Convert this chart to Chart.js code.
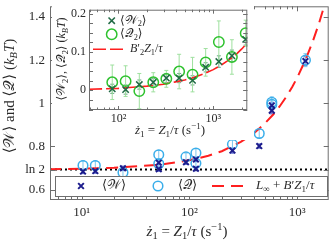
<!DOCTYPE html>
<html>
<head>
<meta charset="utf-8">
<script src="https://cdn.jsdelivr.net/npm/chart.js@4.4.1/dist/chart.umd.min.js"></script>
<style>
  html, body { margin: 0; padding: 0; background: #fff; }
  #wrap { position: relative; width: 335px; height: 242px; }
  #main { position: absolute; left: 0; top: 0; }
  #inset { position: absolute; left: 52px; top: 3px; background: #fff; }
</style>
</head>
<body>
<div id="wrap">
  <canvas id="main" width="335" height="242" style="width:335px;height:242px"></canvas>
  <canvas id="inset" width="202" height="137" style="width:202px;height:137px"></canvas>
</div>
<script>
// ---- main panel data ----
const LN2 = 0.693
const zMain = [10.3, 13.4, 24.2, 52, 52, 93, 115, 115, 251, 310, 445, 582, 582, 1194]
const wMain = [0.684, 0.686, 0.699, 0.725, 0.695, 0.727, 0.740, 0.697, 0.781, 0.860, 0.802, 0.990, 0.966, 1.196]
const qMain = [0.712, 0.712, 0.680, 0.762, 0.720, 0.752, 0.770, 0.722, 0.810, 0.868, 0.860, 1.005, 0.995, 1.200]
const wMainErr = [0.01, 0.01, 0.01, 0.01, 0.01, 0.01, 0.01, 0.01, 0.012, 0.012, 0.01, 0.015, 0.015, 0.02]
const qMainErr = [0.022, 0.022, 0.02, 0.02, 0.018, 0.018, 0.02, 0.018, 0.02, 0.02, 0.02, 0.025, 0.02, 0.03]
// fit L_inf + B' z, sampled from the drawn curve
const fitZ = [5, 10, 20, 50, 100, 150, 200, 300, 400, 500, 600, 700, 800, 900, 1000, 1200, 1400, 1600, 1800]
const fitMain = [0.695, 0.697, 0.702, 0.714, 0.736, 0.757, 0.778, 0.821, 0.863, 0.906, 0.948, 0.991, 1.033, 1.076, 1.118, 1.203, 1.288, 1.373, 1.458]
const xMainTicks = [10, 100, 1000]
const xMainLabels = ['10¹', '10²', '10³']
const yMainTicks = [0.6, LN2, 0.8, 1, 1.2, 1.4]
const yMainLabels = ['0.6', 'ln 2', '0.8', '1', '1.2', '1.4']

// ---- inset data ----
const zInset = [86, 119, 166, 233, 320, 437, 605, 832, 1146, 1574, 2200]
const w2 = [0.004, 0.002, 0.015, 0.021, 0.032, 0.032, 0.026, 0.060, 0.075, 0.090, 0.133]
const q2 = [0.021, 0.024, -0.002, 0.021, 0.030, 0.049, 0.041, 0.073, 0.126, 0.087, 0.149]
const w2Err = [0.012, 0.012, 0.012, 0.01, 0.012, 0.012, 0.012, 0.012, 0.015, 0.015, 0.015]
const q2Err = [0.045, 0.040, 0.046, 0.025, 0.022, 0.045, 0.045, 0.036, 0.055, 0.045, 0.034]
const fitZInset = [49, 100, 200, 300, 400, 500, 600, 800, 1000, 1200, 1400, 1600, 1800, 2000, 2300]
const fitInset = [0.003, 0.005, 0.011, 0.016, 0.022, 0.027, 0.032, 0.043, 0.054, 0.065, 0.076, 0.086, 0.097, 0.108, 0.124]
const xInsetTicks = [100, 1000]
const xInsetLabels = ['10²', '10³']
const yInsetTicks = [0, 0.1, 0.2]
const yInsetLabels = ['0', '0.1', '0.2']

const FONT = '"Liberation Serif", "DejaVu Serif", serif'
const INK = '#2a2a2a'
const FRAME = '#6e6e6e'
Chart.defaults.font.family = FONT
Chart.defaults.color = INK

const pts = (xs, ys) => xs.map((x, i) => ({ x, y: ys[i] }))

// text with italic / sub / sup pieces: [text, flags]  i=italic b=sub p=sup
function drawRich(ctx, segs, x, y, size, align, rot) {
  ctx.save()
  ctx.translate(x, y)
  if (rot) ctx.rotate(rot)
  ctx.fillStyle = INK
  ctx.textBaseline = 'middle'
  ctx.textAlign = 'left'
  const parts = segs.map(([t, st = '']) => {
    const small = st.includes('b') || st.includes('p')
    const f = (st.includes('i') ? 'italic ' : '') + (small ? size * 0.7 : size) + 'px ' + FONT
    ctx.font = f
    const dy = st.includes('b') ? size * 0.3 : st.includes('p') ? -size * 0.32 : 0
    return { t, f, dy, w: ctx.measureText(t).width }
  })
  const total = parts.reduce((a, p) => a + p.w, 0)
  let cx = align === 'center' ? -total / 2 : align === 'right' ? -total : 0
  parts.forEach(p => {
    ctx.font = p.f
    ctx.fillText(p.t, cx, p.dy)
    cx += p.w
  })
  ctx.restore()
}

function drawMarker(ctx, ds, x, y, len) {
  ctx.save()
  ctx.strokeStyle = ds.borderColor
  ctx.lineWidth = ds.borderWidth
  ctx.beginPath()
  if (ds.pointStyle === 'crossRot') {
    const r = ds.pointRadius * 0.71
    ctx.moveTo(x - r, y - r); ctx.lineTo(x + r, y + r)
    ctx.moveTo(x - r, y + r); ctx.lineTo(x + r, y - r)
  } else if (ds.pointStyle === 'circle') {
    ctx.arc(x, y, ds.pointRadius, 0, Math.PI * 2)
  } else {
    ctx.setLineDash(ds.borderDash || [])
    ctx.moveTo(x, y); ctx.lineTo(x + len, y)
  }
  ctx.stroke()
  ctx.restore()
}

const errorBars = {
  id: 'errorBars',
  beforeDatasetsDraw(chart) {
    const ctx = chart.ctx
    const ys = chart.scales.y
    chart.data.datasets.forEach((ds, i) => {
      if (!ds.errors) return
      const meta = chart.getDatasetMeta(i)
      ctx.save()
      ctx.strokeStyle = ds.errorColor
      ctx.lineWidth = 1
      ctx.beginPath()
      meta.data.forEach((el, j) => {
        const v = ds.data[j].y
        const e = ds.errors[j]
        const y1 = ys.getPixelForValue(v - e)
        const y2 = ys.getPixelForValue(v + e)
        ctx.moveTo(el.x, y1); ctx.lineTo(el.x, y2)
        ctx.moveTo(el.x - 2, y1); ctx.lineTo(el.x + 2, y1)
        ctx.moveTo(el.x - 2, y2); ctx.lineTo(el.x + 2, y2)
      })
      ctx.stroke()
      ctx.restore()
    })
  }
}

function makeFrame(cfg) {
  return {
    id: 'frame',
    afterDraw(chart) {
      const { ctx, chartArea: a, scales } = chart
      ctx.save()
      ctx.strokeStyle = FRAME
      ctx.lineWidth = 1
      ctx.strokeRect(a.left + 0.5, a.top + 0.5, a.right - a.left - 1, a.bottom - a.top - 1)
      ctx.beginPath()
      const xs = scales.x
      const lo = Math.floor(Math.log10(xs.min))
      const hi = Math.ceil(Math.log10(xs.max))
      for (let n = lo; n <= hi; n++) {
        for (let k = 1; k < 10; k++) {
          const v = k * Math.pow(10, n)
          if (v < xs.min || v > xs.max) continue
          const px = Math.round(xs.getPixelForValue(v)) + 0.5
          const len = k === 1 ? cfg.major : cfg.minor
          ctx.moveTo(px, a.bottom); ctx.lineTo(px, a.bottom - len)
          ctx.moveTo(px, a.top); ctx.lineTo(px, a.top + len)
        }
      }
      const ys = scales.y
      const yv = ys.ticks.map(t => t.value)
      if (cfg.yMinor) {
        for (let v = Math.ceil(ys.min / cfg.yMinor) * cfg.yMinor; v <= ys.max; v += cfg.yMinor) yv.push(v)
      }
      yv.forEach(v => {
        const py = Math.round(ys.getPixelForValue(v)) + 0.5
        ctx.moveTo(a.left, py); ctx.lineTo(a.left + cfg.major, py)
        ctx.moveTo(a.right, py); ctx.lineTo(a.right - cfg.major, py)
      })
      ctx.stroke()
      ctx.restore()

      cfg.titles.forEach(t => drawRich(ctx, t.segs, t.x, t.y, t.size, 'center', t.rot || 0))

      if (cfg.box) {
        ctx.save()
        ctx.strokeStyle = FRAME
        ctx.fillStyle = '#fff'
        ctx.fillRect(cfg.box[0], cfg.box[1], cfg.box[2], cfg.box[3])
        ctx.strokeRect(cfg.box[0] + 0.5, cfg.box[1] + 0.5, cfg.box[2], cfg.box[3])
        ctx.restore()
      }
      cfg.legend.forEach(it => {
        drawMarker(ctx, chart.data.datasets[it.ds], it.mx, it.y, it.len)
        drawRich(ctx, it.segs, it.tx, it.y, cfg.legendSize, 'left', 0)
      })
    }
  }
}

// keep the plot box exactly where the figure has it
const fixX = h => s => { s.height = h; s.paddingLeft = 0; s.paddingRight = 0 }
const fixY = w => s => { s.width = w; s.paddingTop = 0; s.paddingBottom = 0 }

const xTitle = [['ż', 'i'], ['1', 'b'], [' = '], ['Z', 'i'], ['1', 'b'], ['/'], ['τ', 'i'], [' (s'], ['−1', 'p'], [')']]

// ---- main chart ----
new Chart(document.getElementById('main'), {
  type: 'scatter',
  data: {
    datasets: [
      { data: pts(zMain, wMain), pointStyle: 'crossRot', pointRadius: 4, borderColor: '#1c1c8c', borderWidth: 2, errors: wMainErr, errorColor: '#5a6ad0', order: 1 },
      { data: pts(zMain, qMain), pointStyle: 'circle', pointRadius: 4.8, borderColor: '#3aaeea', backgroundColor: 'rgba(0,0,0,0)', borderWidth: 1.5, errors: qMainErr, errorColor: '#7cc6ee', order: 2 },
      { data: pts(fitZ, fitMain), showLine: true, pointRadius: 0, borderColor: '#ff1f1f', borderWidth: 2, borderDash: [12, 7], order: 3 },
      { data: pts([5.09, 1963], [LN2, LN2]), showLine: true, pointRadius: 0, borderColor: '#000', borderWidth: 2, borderDash: [2, 3], order: 4 }
    ]
  },
  options: {
    responsive: false,
    animation: false,
    events: [],
    layout: { padding: { top: 1, right: 5, left: 0, bottom: 0 } },
    plugins: { legend: { display: false }, tooltip: { enabled: false } },
    scales: {
      x: {
        type: 'logarithmic', min: 5.09, max: 1963,
        afterBuildTicks: s => { s.ticks = xMainTicks.map(v => ({ value: v })) },
        afterFit: fixX(42),
        ticks: { callback: (v, i) => xMainLabels[i], font: { size: 13 }, padding: 5, maxRotation: 0, autoSkip: false },
        grid: { display: false, drawTicks: false }, border: { display: false }
      },
      y: {
        min: 0.552, max: 1.4496,
        afterBuildTicks: s => { s.ticks = yMainTicks.map(v => ({ value: v })) },
        afterFit: fixY(50),
        ticks: { callback: (v, i) => yMainLabels[i], font: { size: 13 }, padding: 5, autoSkip: false },
        grid: { display: false, drawTicks: false }, border: { display: false }
      }
    }
  },
  plugins: [errorBars, makeFrame({
    major: 5, minor: 3,
    titles: [
      { segs: [['⟨'], ['𝒲'], ['⟩ and ⟨'], ['𝒬'], ['⟩ ('], ['k', 'i'], ['B', 'ib'], ['T', 'i'], [')']], x: 10, y: 96, size: 15, rot: -Math.PI / 2 },
      { segs: xTitle, x: 187, y: 232, size: 15 }
    ],
    box: [55, 176, 272, 20],
    legendSize: 13,
    legend: [
      { ds: 0, mx: 81, y: 186, tx: 102, segs: [['⟨'], ['𝒲'], ['⟩']] },
      { ds: 1, mx: 158, y: 186, tx: 178, segs: [['⟨'], ['𝒬'], ['⟩']] },
      { ds: 2, mx: 212, y: 186, len: 36, tx: 256, segs: [['L', 'i'], ['∞', 'b'], [' + '], ['B', 'i'], ['′'], ['Z', 'i'], ['1', 'b'], ['/'], ['τ', 'i']] }
    ]
  })]
})

// ---- inset chart ----
new Chart(document.getElementById('inset'), {
  type: 'scatter',
  data: {
    datasets: [
      { data: pts(zInset, w2), pointStyle: 'crossRot', pointRadius: 4.5, borderColor: '#226a46', borderWidth: 1.5, errors: w2Err, errorColor: '#6aa884', order: 1 },
      { data: pts(zInset, q2), pointStyle: 'circle', pointRadius: 5.2, borderColor: '#2ec22e', backgroundColor: 'rgba(0,0,0,0)', borderWidth: 1.5, errors: q2Err, errorColor: '#9fe09f', order: 2 },
      { data: pts(fitZInset, fitInset), showLine: true, pointRadius: 0, borderColor: '#ff1f1f', borderWidth: 1.6, borderDash: [13, 4], order: 3 }
    ]
  },
  options: {
    responsive: false,
    animation: false,
    events: [],
    layout: { padding: { top: 5, right: 3, left: 0, bottom: 0 } },
    plugins: { legend: { display: false }, tooltip: { enabled: false } },
    scales: {
      x: {
        type: 'logarithmic', min: 48.9, max: 2288,
        afterBuildTicks: s => { s.ticks = xInsetTicks.map(v => ({ value: v })) },
        afterFit: fixX(30),
        ticks: { callback: (v, i) => xInsetLabels[i], font: { size: 12 }, padding: 2, maxRotation: 0, autoSkip: false },
        grid: { display: false, drawTicks: false }, border: { display: false }
      },
      y: {
        min: -0.0513, max: 0.2103,
        afterBuildTicks: s => { s.ticks = yInsetTicks.map(v => ({ value: v })) },
        afterFit: fixY(37),
        ticks: { callback: (v, i) => yInsetLabels[i], font: { size: 12 }, padding: 3, autoSkip: false },
        grid: { display: false, drawTicks: false }, border: { display: false }
      }
    }
  },
  plugins: [errorBars, makeFrame({
    major: 4, minor: 2.5, yMinor: 0.025,
    titles: [
      { segs: [['⟨'], ['𝒲'], ['2', 'b'], ['⟩, ⟨'], ['𝒬'], ['2', 'b'], ['⟩ ('], ['k', 'i'], ['B', 'ib'], ['T', 'i'], [')']], x: 10, y: 56, size: 12, rot: -Math.PI / 2 },
      { segs: xTitle, x: 118, y: 128, size: 13 }
    ],
    legendSize: 12,
    legend: [
      { ds: 0, mx: 59.7, y: 17.7, tx: 68, segs: [['⟨'], ['𝒲'], ['2', 'b'], ['⟩']] },
      { ds: 1, mx: 59.7, y: 31.3, tx: 68, segs: [['⟨'], ['𝒬'], ['2', 'b'], ['⟩']] },
      { ds: 2, mx: 41, y: 46.3, len: 30, tx: 78, segs: [['B', 'i'], ['′'], ['2', 'b'], ['Z', 'i'], ['1', 'b'], ['/'], ['τ', 'i']] }
    ]
  })]
})
</script>
</body>
</html>
